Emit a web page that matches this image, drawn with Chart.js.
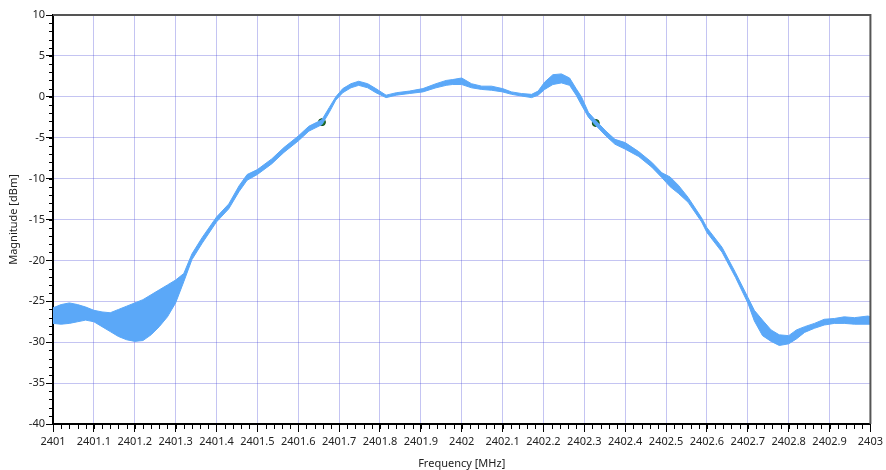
<!DOCTYPE html>
<html>
<head>
<meta charset="utf-8">
<script src="https://cdn.jsdelivr.net/npm/chart.js@4"></script>
<style>
  html, body { margin: 0; padding: 0; background: #fff; }
  #wrap { width: 886px; height: 470px; }
</style>
</head>
<body>
<div id="wrap"><canvas id="specChart" width="886" height="470"></canvas></div>
<script>
// frequency points [MHz] and the upper / lower edge of the noisy trace [dBm]
const freq = [2401.00, 2401.02, 2401.04, 2401.06, 2401.08, 2401.10, 2401.12, 2401.14, 2401.16, 2401.18,
  2401.20, 2401.22, 2401.24, 2401.26, 2401.28, 2401.30, 2401.32, 2401.34, 2401.365, 2401.40,
  2401.43, 2401.455, 2401.475, 2401.50, 2401.535, 2401.565, 2401.60, 2401.626, 2401.658, 2401.676,
  2401.692, 2401.709, 2401.729, 2401.748, 2401.77, 2401.79, 2401.815, 2401.84, 2401.872, 2401.905,
  2401.937, 2401.962, 2401.977, 2402.00, 2402.024, 2402.049, 2402.073, 2402.10, 2402.122, 2402.146,
  2402.171, 2402.187, 2402.203, 2402.223, 2402.244, 2402.264, 2402.28, 2402.293, 2402.31, 2402.328,
  2402.353, 2402.375, 2402.40, 2402.433, 2402.465, 2402.49, 2402.51, 2402.53, 2402.554, 2402.587,
  2402.60, 2402.637, 2402.67, 2402.70, 2402.716, 2402.736, 2402.757, 2402.777, 2402.80, 2402.819,
  2402.839, 2402.863, 2402.887, 2402.912, 2402.936, 2402.961, 2402.994, 2403.00];
const upper = [-25.8, -25.4, -25.2, -25.4, -25.7, -26.1, -26.3, -26.4, -26.0, -25.6,
  -25.2, -24.8, -24.2, -23.6, -23.0, -22.4, -21.6, -19.2, -17.2, -14.7,
  -13.1, -10.9, -9.5, -8.9, -7.6, -6.2, -4.8, -3.6, -2.8, -1.3,
  0.0, 1.0, 1.6, 1.9, 1.6, 1.0, 0.2, 0.5, 0.7, 1.0,
  1.6, 2.0, 2.1, 2.3, 1.6, 1.3, 1.3, 1.0, 0.6, 0.4,
  0.3, 0.7, 1.8, 2.7, 2.8, 2.3, 1.0, 0.0, -1.9, -2.9,
  -4.2, -5.2, -5.6, -6.7, -8.0, -9.3, -9.8, -10.8, -12.3, -14.8,
  -16.0, -18.4, -21.5, -24.5, -26.1, -27.3, -28.5, -29.1, -29.2, -28.5,
  -28.1, -27.7, -27.2, -27.1, -26.9, -27.0, -26.8, -26.9];
const lower = [-27.7, -27.8, -27.7, -27.5, -27.3, -27.5, -28.1, -28.7, -29.3, -29.7,
  -29.9, -29.8, -29.1, -28.1, -26.9, -25.2, -22.6, -19.9, -17.9, -15.3,
  -13.7, -11.6, -10.2, -9.5, -8.2, -6.8, -5.4, -4.2, -3.4, -1.9,
  -0.4, 0.5, 1.1, 1.4, 1.1, 0.5, -0.1, 0.2, 0.4, 0.6,
  1.1, 1.4, 1.5, 1.5, 1.1, 0.9, 0.8, 0.6, 0.3, 0.1,
  -0.1, 0.2, 0.9, 1.5, 1.7, 1.4, 0.2, -1.0, -2.5, -3.5,
  -4.8, -5.8, -6.4, -7.3, -8.6, -9.9, -11.0, -11.8, -12.9, -15.3,
  -16.6, -19.0, -22.1, -25.2, -27.4, -29.2, -29.9, -30.4, -30.2, -29.6,
  -28.8, -28.3, -27.9, -27.7, -27.7, -27.8, -27.8, -27.8];

// marker points
const markerFreq = [2401.658, 2402.328];
const markerVal = [-3.1, -3.2];

// axis settings
const xMin = 2401, xMax = 2403, xStep = 0.1, xMinor = 0.02;
const yMin = -40, yMax = 10, yStep = 5, yMinor = 1;

const traceColor = '#5ba8f8';
const gridColor = 'rgba(70, 70, 215, 0.32)';
const fontFam = "'Noto Sans', 'Open Sans', sans-serif";

function toPts(xs, ys) {
  return xs.map((x, i) => ({ x: x, y: ys[i] }));
}

// minor ticks + top/right frame
const framePlugin = {
  id: 'frame',
  afterDraw(chart) {
    const ctx = chart.ctx;
    const a = chart.chartArea;
    const xs = chart.scales.x, ys = chart.scales.y;
    ctx.save();
    ctx.strokeStyle = '#000';
    ctx.lineWidth = 1;
    ctx.beginPath();
    for (let v = xMin; v <= xMax + 1e-9; v += xMinor) {
      const px = Math.round(xs.getPixelForValue(v)) + 0.5;
      ctx.moveTo(px, a.bottom);
      ctx.lineTo(px, a.bottom + 5);
    }
    for (let v = yMin; v <= yMax + 1e-9; v += yMinor) {
      const py = Math.round(ys.getPixelForValue(v)) + 0.5;
      ctx.moveTo(a.left, py);
      ctx.lineTo(a.left - 4, py);
    }
    ctx.stroke();
    // top and right edge
    ctx.strokeStyle = '#555';
    ctx.lineWidth = 2;
    ctx.beginPath();
    ctx.moveTo(a.left, a.top);
    ctx.lineTo(a.right, a.top);
    ctx.lineTo(a.right, a.bottom);
    ctx.stroke();
    ctx.restore();
  }
};

const ctx = document.getElementById('specChart').getContext('2d');

const specChart = new Chart(ctx, {
  type: 'line',
  data: {
    datasets: [{
      label: 'upper',
      data: toPts(freq, upper),
      borderColor: traceColor,
      borderWidth: 1,
      pointRadius: 0,
      tension: 0,
      fill: false
    }, {
      label: 'lower',
      data: toPts(freq, lower),
      borderColor: traceColor,
      backgroundColor: traceColor,
      borderWidth: 1,
      pointRadius: 0,
      tension: 0,
      fill: '-1'
    }, {
      label: 'markers',
      type: 'scatter',
      data: toPts(markerFreq, markerVal),
      pointRadius: 3.5,
      pointBackgroundColor: '#1f7f2c',
      pointBorderColor: '#124a1a',
      pointBorderWidth: 1
    }]
  },
  options: {
    responsive: false,
    animation: false,
    devicePixelRatio: 1,
    layout: { padding: { left: 0, right: 13, top: 15, bottom: 0 } },
    plugins: {
      legend: { display: false },
      tooltip: { enabled: false }
    },
    scales: {
      x: {
        type: 'linear',
        min: xMin,
        max: xMax,
        afterFit: function(scale) { scale.height = 46; },
        afterBuildTicks: function(scale) {
          const t = [];
          for (let v = xMin; v <= xMax + 1e-9; v += xStep) t.push({ value: parseFloat(v.toFixed(1)) });
          scale.ticks = t;
        },
        ticks: {
          color: '#222',
          font: { family: fontFam, size: 11 },
          padding: 3,
          maxRotation: 0,
          autoSkip: false,
          callback: function(value) {
            return parseFloat(value.toFixed(1)).toString();
          }
        },
        grid: {
          color: gridColor,
          lineWidth: 1,
          tickColor: '#000',
          tickLength: 8
        },
        border: { color: '#000', width: 2 },
        title: {
          display: true,
          text: 'Frequency [MHz]',
          color: '#222',
          font: { family: fontFam, size: 11 },
          padding: { top: 0, bottom: 0 }
        }
      },
      y: {
        min: yMin,
        max: yMax,
        afterFit: function(scale) { scale.width = 53; },
        ticks: {
          stepSize: yStep,
          color: '#222',
          font: { family: fontFam, size: 11 },
          padding: 1
        },
        grid: {
          color: gridColor,
          lineWidth: 1,
          tickColor: '#000',
          tickLength: 7
        },
        border: { color: '#000', width: 2 },
        title: {
          display: true,
          text: 'Magnitude [dBm]',
          color: '#222',
          font: { family: fontFam, size: 11 },
          padding: { top: 7, bottom: 0 }
        }
      }
    }
  },
  plugins: [framePlugin]
});
</script>
</body>
</html>
